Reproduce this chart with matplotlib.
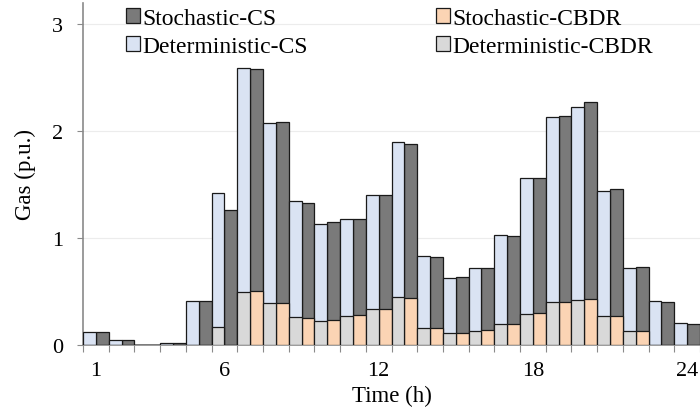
import numpy as np
import matplotlib.pyplot as plt

hours = np.arange(1, 25)

# top of each bar (CS) and the CBDR part drawn at the bottom, in p.u.
det_cs = [0.12, 0.04, 0.00, 0.02, 0.41, 1.42, 2.59, 2.07, 1.34, 1.13, 1.18, 1.40,
          1.90, 0.83, 0.62, 0.72, 1.03, 1.56, 2.13, 2.22, 1.44, 0.72, 0.41, 0.20]
sto_cs = [0.12, 0.04, 0.00, 0.02, 0.41, 1.26, 2.58, 2.08, 1.33, 1.15, 1.18, 1.40,
          1.88, 0.82, 0.63, 0.72, 1.02, 1.56, 2.14, 2.27, 1.46, 0.73, 0.40, 0.19]
det_cbdr = [0, 0, 0, 0, 0, 0.17, 0.49, 0.39, 0.26, 0.22, 0.27, 0.33,
            0.45, 0.16, 0.11, 0.13, 0.19, 0.29, 0.40, 0.42, 0.27, 0.13, 0, 0]
sto_cbdr = [0, 0, 0, 0, 0, 0, 0.50, 0.39, 0.25, 0.23, 0.28, 0.33,
            0.44, 0.16, 0.11, 0.14, 0.19, 0.30, 0.40, 0.43, 0.27, 0.13, 0, 0]
label_hours = [1, 6, 12, 18, 24]

plt.rcParams['font.family'] = ['Liberation Serif', 'DejaVu Serif']
plt.rcParams['font.size'] = 16

fig = plt.figure(figsize=(7, 4.14), dpi=100)
ax = fig.add_axes([0.1186, 0.165, 0.8814, 0.826])

c_sto_cs = '#7a7a7a'
c_det_cs = '#dae3f3'
c_sto_cbdr = '#fbd4b4'
c_det_cbdr = '#d9d9d9'
ekw = dict(edgecolor='#1a1a1a', linewidth=0.9, width=0.5, zorder=3)

b1 = ax.bar(hours + 0.25, sto_cs, color=c_sto_cs, label='Stochastic-CS', **ekw)
b2 = ax.bar(hours - 0.25, det_cs, color=c_det_cs, label='Deterministic-CS', **ekw)
b3 = ax.bar(hours + 0.25, sto_cbdr, color=c_sto_cbdr, label='Stochastic-CBDR', **ekw)
b4 = ax.bar(hours - 0.25, det_cbdr, color=c_det_cbdr, label='Deterministic-CBDR', **ekw)

ax.set_xlim(0.5, 24.5)
ax.set_ylim(0, 3.2)
ax.set_yticks([0, 1, 2, 3])
ax.grid(axis='y', color='#ececec', linewidth=0.8, zorder=0)

ax.set_xticks(np.arange(0.5, 25, 1))
ax.set_xticklabels([])
ax.set_xticks(label_hours, minor=True)
ax.set_xticklabels([str(h) for h in label_hours], minor=True)
ax.tick_params(axis='x', which='major', length=5, color='#8a8a8a', direction='out')
ax.tick_params(axis='x', which='minor', length=0, pad=11.5)
ax.tick_params(axis='y', length=4.5, color='#8a8a8a', pad=10)

for s in ['top', 'right']:
    ax.spines[s].set_visible(False)
for s in ['left', 'bottom']:
    ax.spines[s].set_color('#8a8a8a')
    ax.spines[s].set_linewidth(1.2)

ax.set_xlabel('Time (h)', fontsize=16.5, labelpad=4)
ax.set_ylabel('Gas (p.u.)', fontsize=16.5, labelpad=11)

ax.legend(handles=[b1, b2, b3, b4], ncol=2, loc='upper left',
          bbox_to_anchor=(0.069, 0.985), frameon=False, fontsize=17,
          handlelength=0.6, handleheight=0.6, handletextpad=0.12,
          columnspacing=5.4, labelspacing=0.3, borderaxespad=0, borderpad=0)

fig.savefig('out.png', dpi=100)
